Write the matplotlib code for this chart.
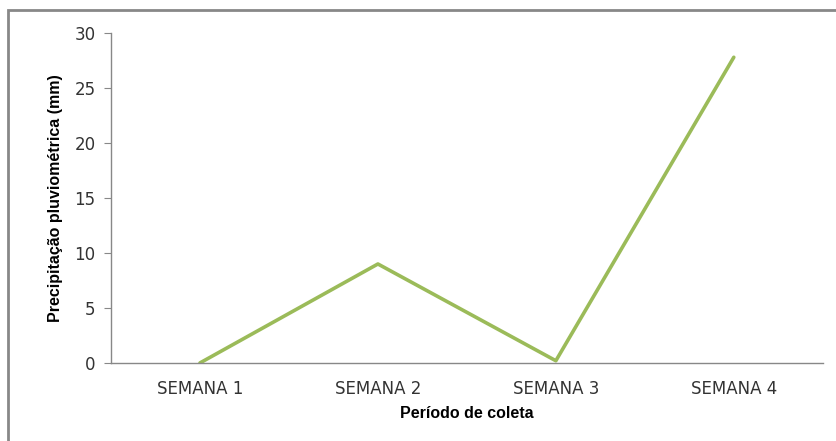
import matplotlib
matplotlib.use('Agg')
import matplotlib.pyplot as plt
from matplotlib.patches import Rectangle

# Dados: precipitação semanal
semanas = ['SEMANA 1', 'SEMANA 2', 'SEMANA 3', 'SEMANA 4']
precipitacao = [0, 9, 0.2, 27.8]

fig = plt.figure(figsize=(8.37, 4.41), dpi=100)
ax = fig.add_axes([0.1326, 0.177, 0.8504, 0.748])

x = range(len(semanas))
ax.plot(x, precipitacao, color='#9BBB59', linewidth=2.6, solid_capstyle='round')

ax.set_xlim(-0.5, len(semanas) - 0.5)
ax.set_ylim(0, 30)
ax.set_yticks([0, 5, 10, 15, 20, 25, 30])
ax.set_xticks(list(x))
ax.set_xticklabels(semanas)

for s in ['top', 'right']:
    ax.spines[s].set_visible(False)
for s in ['left', 'bottom']:
    ax.spines[s].set_color('#888888')
    ax.spines[s].set_linewidth(1.0)

ax.tick_params(axis='y', direction='out', length=5, color='#888888', labelsize=12, pad=6)
ax.tick_params(axis='x', length=0, labelsize=12, pad=12)
for lab in ax.get_xticklabels() + ax.get_yticklabels():
    lab.set_fontfamily('DejaVu Sans')
    lab.set_color('#333333')

ax.set_xlabel('Período de coleta', fontfamily='Liberation Sans', fontweight='bold',
              fontsize=11.5, labelpad=6)
ax.set_ylabel('Precipitação pluviométrica (mm)', fontfamily='Liberation Sans',
              fontweight='bold', fontsize=11.5, labelpad=8)

# moldura externa
fig.patches.append(Rectangle((8 / 837, -0.05), 2, 1 - 10 / 441 + 0.05,
                             transform=fig.transFigure, fill=False,
                             edgecolor='#888888', linewidth=2))

fig.savefig('out.png', dpi=100)
